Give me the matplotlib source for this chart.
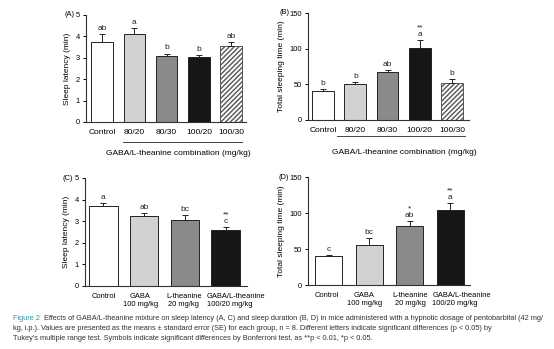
import matplotlib
matplotlib.use("Agg")
import matplotlib.pyplot as plt
import numpy as np

plt.rcParams["font.family"] = ["Liberation Sans", "DejaVu Sans"]

# --- Data ---
combo_groups = ["Control", "80/20", "80/30", "100/20", "100/30"]
latency_combo = [3.72, 4.13, 3.08, 3.05, 3.56]
latency_combo_se = [0.38, 0.24, 0.12, 0.08, 0.17]
latency_combo_letters = ["ab", "a", "b", "b", "ab"]
sleep_combo = [40.8, 50.2, 67.5, 101.3, 51.6]
sleep_combo_se = [2.2, 3.2, 2.3, 10.3, 5.6]
sleep_combo_letters = ["b", "b", "ab", "**\na", "b"]

single_groups = ["Control", "GABA\n100 mg/kg", "L-theanine\n20 mg/kg", "GABA/L-theanine\n100/20 mg/kg"]
latency_single = [3.71, 3.26, 3.04, 2.58]
latency_single_se = [0.13, 0.11, 0.24, 0.14]
latency_single_letters = ["a", "ab", "bc", "**\nc"]
sleep_single = [40.3, 55.6, 82.4, 104.2]
sleep_single_se = [1.8, 9.7, 6.5, 9.2]
sleep_single_letters = ["c", "bc", "*\nab", "**\na"]

FILL5 = ["white", "#d2d2d2", "#8a8a8a", "#161616", "white"]
FILL4 = ["white", "#d2d2d2", "#8a8a8a", "#161616"]
FS = 6.0      # axis labels, letters
FS_TICK = 5.4  # y tick numbers, panel tags


def draw_panel(ax, groups, vals, errs, letters, fills, ymax, yticks, ylabel,
               panel, xlim, width, label_x, xfs, label_pos=None, hatch_last=False):
    x = np.arange(len(groups))
    bars = ax.bar(x, vals, width, color=fills, edgecolor="#222222", linewidth=0.7)
    if hatch_last:
        bars[-1].set_hatch("///////")
        bars[-1].set_edgecolor("#555555")
    ax.errorbar(x, vals, yerr=[np.zeros(len(vals)), errs], fmt="none",
                ecolor="#222222", elinewidth=0.7, capsize=2, capthick=0.7)
    for xi, v, e, lab in zip(x, vals, errs, letters):
        ax.annotate(lab, (xi, v + e), xytext=(0, 1.5), textcoords="offset points",
                    ha="center", va="bottom", fontsize=FS, linespacing=1.0,
                    color="#222222")
    ax.set_xlim(*xlim)
    ax.set_ylim(0, ymax)
    ax.set_yticks(yticks)
    # labels sit slightly off the bar centres in the original
    ax.set_xticks(x if label_pos is None else label_pos)
    ax.set_xticklabels(groups, fontsize=xfs, linespacing=1.2)
    ax.tick_params(axis="x", length=0, pad=5)
    ax.tick_params(axis="y", labelsize=FS_TICK, length=2.5, width=0.7, pad=2)
    ax.set_ylabel(ylabel, fontsize=FS, labelpad=3)
    for s in ["top", "right"]:
        ax.spines[s].set_visible(False)
    for s in ["left", "bottom"]:
        ax.spines[s].set_linewidth(0.8)
        ax.spines[s].set_color("#333333")
    ax.text(label_x, 1.0, panel, transform=ax.transAxes, ha="right",
            va="center", fontsize=FS_TICK)


fig = plt.figure(figsize=(5.54, 3.49), dpi=100)
W, H = 554.0, 349.0


def axes_px(left, right, top, bottom):
    return fig.add_axes([left / W, 1 - bottom / H, (right - left) / W, (bottom - top) / H])


axA = axes_px(86, 246, 15, 122)
axB = axes_px(308, 469, 13, 120)
axC = axes_px(85, 247, 178, 286)
axD = axes_px(308, 470, 177, 285)

draw_panel(axA, combo_groups, latency_combo, latency_combo_se, latency_combo_letters,
           FILL5, 5, range(6), "Sleep latency (min)", "(A)", (-0.5, 4.46), 0.67,
           -0.075, 6.0, hatch_last=True)
draw_panel(axB, combo_groups, sleep_combo, sleep_combo_se, sleep_combo_letters,
           FILL5, 150, [0, 50, 100, 150], "Total sleeping time (min)", "(B)",
           (-0.47, 4.53), 0.68, -0.118, 6.0, hatch_last=True)
draw_panel(axC, single_groups, latency_single, latency_single_se, latency_single_letters,
           FILL4, 5, range(6), "Sleep latency (min)", "(C)", (-0.45, 3.52), 0.7,
           -0.075, 5.4, label_pos=[0, 0.91, 1.97, 3.26])
draw_panel(axD, single_groups, sleep_single, sleep_single_se, sleep_single_letters,
           FILL4, 150, [0, 50, 100, 150], "Total sleeping time (min)", "(D)",
           (-0.51, 3.49), 0.67, -0.118, 5.4, label_pos=[-0.04, 0.88, 2.01, 3.28])
for ax in (axC, axD):
    ax.get_xticklabels()[-1].set_multialignment("left")

# bracket + xlabel for the combination panels
for ax, x0, x1, yb, xl, yl in [(axA, 0.23, 0.975, -0.185, 0.58, -0.29),
                               (axB, 0.18, 0.975, -0.15, 0.60, -0.30)]:
    ax.plot([x0, x1], [yb, yb], transform=ax.transAxes, color="#444444",
            linewidth=0.7, clip_on=False)
    ax.text(xl, yl, "GABA/L-theanine combination (mg/kg)", transform=ax.transAxes,
            ha="center", va="center", fontsize=FS)

# caption
cap_fs = 5.3
cap_col = "#333333"
fig.text(13 / W, 1 - 318 / H, "Figure 2", color="#2a9bb0", fontsize=cap_fs, va="center")
fig.text(44 / W, 1 - 318 / H,
         "Effects of GABA/L-theanine mixture on sleep latency (A, C) and sleep duration (B, D) "
         "in mice administered with a hypnotic dosage of pentobarbital (42 mg/",
         color=cap_col, fontsize=cap_fs, va="center")
fig.text(13 / W, 1 - 329 / H,
         "kg, i.p.). Values are presented as the means \u00b1 standard error (SE) for each group, "
         "n = 8. Different letters indicate significant differences (p < 0.05) by",
         color=cap_col, fontsize=cap_fs, va="center")
fig.text(13 / W, 1 - 339 / H,
         "Tukey's multiple range test. Symbols indicate significant differences by Bonferroni "
         "test, as **p < 0.01, *p < 0.05.",
         color=cap_col, fontsize=cap_fs, va="center")

fig.savefig("out.png", dpi=100)
